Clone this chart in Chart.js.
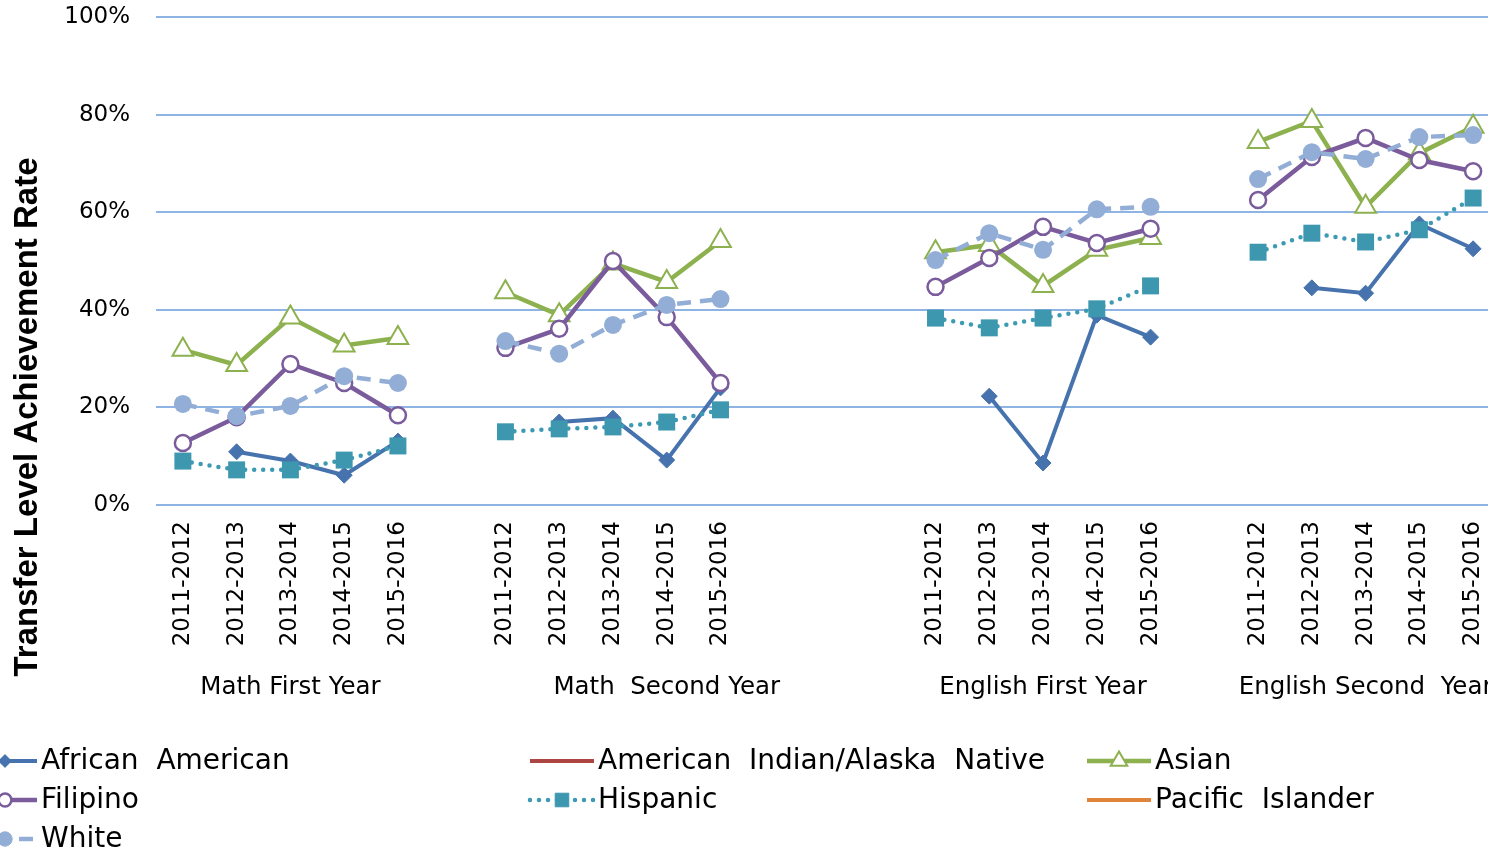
<!DOCTYPE html>
<html><head><meta charset="utf-8">
<script src="https://cdn.jsdelivr.net/npm/chart.js@4/dist/chart.umd.min.js"></script>
<style>html,body{margin:0;padding:0;overflow:hidden;background:#fff;width:1488px;height:854px}canvas{display:block}</style>
</head><body>
<canvas id="c" width="1514" height="854"></canvas>
<script>
// ---- data ----
const years = ['2011-2012', '2012-2013', '2013-2014', '2014-2015', '2015-2016'];
const groups = ['Math First Year', 'Math  Second Year', 'English First Year', 'English Second  Year'];
const blanksAfter = [1, 3, 1];
const yTicks = [0, 20, 40, 60, 80, 100];

const africanAmerican = [null, 10.9, 9.0, 6.1, 13.1,  null, 17.0, 17.8, 9.2, 24.0,  null, 22.3, 8.6, 38.9, 34.4,  null, 44.5, 43.4, 57.6, 52.5];
const americanIndian  = [null, null, null, null, null,  null, null, null, null, null,  null, null, null, null, null,  null, null, null, null, null];
const asian           = [31.8, 28.7, 38.4, 32.7, 34.2,  43.6, 38.9, 49.5, 45.7, 54.1,  51.8, 53.3, 44.9, 52.3, 54.7,  74.4, 78.7, 61.1, 72.1, 77.5];
const filipino        = [12.7, 18.0, 28.9, 25.0, 18.4,  32.2, 36.1, 50.0, 38.5, 25.0,  44.7, 50.6, 57.0, 53.7, 56.6,  62.5, 71.3, 75.2, 70.7, 68.4];
const hispanic        = [9.0, 7.2, 7.2, 9.2, 12.1,  15.0, 15.6, 16.0, 17.0, 19.5,  38.3, 36.3, 38.3, 40.2, 44.9,  51.8, 55.7, 53.9, 56.4, 62.9];
const pacificIslander = [null, null, null, null, null,  null, null, null, null, null,  null, null, null, null, null,  null, null, null, null, null];
const white           = [20.7, 18.2, 20.3, 26.4, 25.0,  33.6, 31.0, 36.9, 41.0, 42.2,  50.2, 55.7, 52.3, 60.6, 61.1,  66.8, 72.3, 70.9, 75.4, 75.8];

// ---- build category axis with blank slots between groups ----
const labels = [];
groups.forEach((g, gi) => {
  years.forEach(y => labels.push(y));
  if (gi < blanksAfter.length) for (let k = 0; k < blanksAfter[gi]; k++) labels.push('');
});
function expand(series) {
  const out = [];
  groups.forEach((g, gi) => {
    for (let k = 0; k < years.length; k++) out.push(series[gi * years.length + k]);
    if (gi < blanksAfter.length) for (let k = 0; k < blanksAfter[gi]; k++) out.push(null);
  });
  return out;
}
// category index at which each group caption is centred
const groupLabelIndex = [2, 9, 16, 22];

const FONT = '"DejaVu Sans", Verdana, sans-serif';

const datasets = [
  { label: 'African  American', data: expand(africanAmerican), borderColor: '#4673ad', backgroundColor: '#4673ad',
    pointStyle: 'rectRot', pointRadius: 8, pointBorderWidth: 1, borderWidth: 4, order: 6 },
  { label: 'American  Indian/Alaska  Native', data: expand(americanIndian), borderColor: '#ad4643', backgroundColor: '#ad4643',
    pointStyle: false, pointRadius: 0, borderWidth: 4, order: 5 },
  { label: 'Asian', data: expand(asian), borderColor: '#8cb14e', backgroundColor: '#8cb14e', pointBackgroundColor: '#ffffff',
    pointStyle: 'triangle', pointRadius: 12, pointBorderWidth: 2, borderWidth: 4.5, order: 4 },
  { label: 'Filipino', data: expand(filipino), borderColor: '#7a5b9b', backgroundColor: '#7a5b9b', pointBackgroundColor: '#ffffff',
    pointStyle: 'circle', pointRadius: 8, pointBorderWidth: 2.5, borderWidth: 4.5, order: 3 },
  { label: 'Hispanic', data: expand(hispanic), borderColor: '#3d9ab3', backgroundColor: '#3d97ae',
    borderDash: [0, 9], borderCapStyle: 'round', pointStyle: 'rect', pointRadius: 12, pointBorderWidth: 0, borderWidth: 4.5, order: 2 },
  { label: 'Pacific  Islander', data: expand(pacificIslander), borderColor: '#e0843a', backgroundColor: '#e0843a',
    pointStyle: false, pointRadius: 0, borderWidth: 4, order: 1 },
  { label: 'White', data: expand(white), borderColor: '#93aed6', backgroundColor: '#93aed6',
    borderDash: [14, 9], pointStyle: 'circle', pointRadius: 9, pointBorderWidth: 0, borderWidth: 4.5, order: 0 }
];

function marker(ctx, ds, x, y, scale) {
  const r = (ds.pointRadius || 0) * scale;
  if (!ds.pointStyle || !r) return;
  ctx.save();
  ctx.setLineDash([]);
  ctx.fillStyle = ds.pointBackgroundColor || ds.backgroundColor;
  ctx.strokeStyle = ds.borderColor;
  ctx.lineWidth = ds.pointBorderWidth || 0;
  ctx.beginPath();
  if (ds.pointStyle === 'circle') ctx.arc(x, y, r, 0, Math.PI * 2);
  else if (ds.pointStyle === 'rectRot') { ctx.moveTo(x - r, y); ctx.lineTo(x, y - r); ctx.lineTo(x + r, y); ctx.lineTo(x, y + r); ctx.closePath(); }
  else if (ds.pointStyle === 'rect') { const s = r * Math.SQRT1_2; ctx.rect(x - s, y - s, 2 * s, 2 * s); }
  else if (ds.pointStyle === 'triangle') {
    for (let k = 0; k < 3; k++) { const a = k * 2 * Math.PI / 3; const px = x + Math.sin(a) * r, py = y - Math.cos(a) * r; k ? ctx.lineTo(px, py) : ctx.moveTo(px, py); }
    ctx.closePath();
  }
  ctx.fill();
  if (ctx.lineWidth > 0) ctx.stroke();
  ctx.restore();
}

const extras = {
  id: 'extras',
  afterDraw(chart) {
    const ctx = chart.ctx;
    const xs = chart.scales.x;
    ctx.save();
    ctx.translate(28, 417);
    ctx.rotate(-Math.PI / 2);
    ctx.font = 'bold 33px "Liberation Sans", Arial, sans-serif';
    ctx.fillStyle = '#000';
    ctx.textAlign = 'center';
    ctx.textBaseline = 'middle';
    ctx.fillText('Transfer Level Achievement Rate', 0, 0);
    ctx.restore();

    ctx.save();
    ctx.font = '24.5px ' + FONT;
    ctx.fillStyle = '#000';
    ctx.textAlign = 'center';
    ctx.textBaseline = 'middle';
    groups.forEach((g, gi) => ctx.fillText(g, xs.getPixelForValue(groupLabelIndex[gi]), 688));
    ctx.restore();

    ctx.save();
    chart.data.datasets.forEach((ds, i) => {
      const col = i % 3, row = Math.floor(i / 3);
      const x0 = -27 + col * 557, y = 761 + row * 39;
      ctx.save();
      ctx.strokeStyle = ds.borderColor;
      ctx.lineWidth = ds.borderWidth;
      ctx.lineCap = ds.borderCapStyle || 'butt';
      ctx.setLineDash(ds.borderDash || []);
      ctx.beginPath(); ctx.moveTo(x0, y); ctx.lineTo(x0 + 64, y); ctx.stroke();
      ctx.restore();
      marker(ctx, ds, x0 + 32, y, 0.8);
      ctx.font = '28px ' + FONT;
      ctx.fillStyle = '#000';
      ctx.textBaseline = 'middle';
      ctx.textAlign = 'left';
      ctx.fillText(ds.label, x0 + 68, y + 1);
    });
    ctx.restore();
  }
};

new Chart(document.getElementById('c'), {
  type: 'line',
  data: { labels, datasets },
  plugins: [extras],
  options: {
    responsive: false,
    animation: false,
    devicePixelRatio: 1,
    layout: { padding: { left: 0, right: 0, top: 17, bottom: 0 } },
    elements: { line: { tension: 0 } },
    plugins: { legend: { display: false }, tooltip: { enabled: false } },
    scales: {
      x: {
        type: 'category',
        offset: true,
        grid: { display: false, drawTicks: false },
        border: { display: false },
        ticks: { autoSkip: false, maxRotation: 90, minRotation: 90, padding: 16, color: '#000', font: { family: FONT, size: 23 } },
        afterFit(s) { s.height = 349; s.paddingLeft = 0; s.paddingRight = 0; s.paddingTop = 0; s.paddingBottom = 0; }
      },
      y: {
        min: 0, max: 100,
        afterBuildTicks(s) { s.ticks = yTicks.map(v => ({ value: v })); },
        grid: { color: '#8eb4e3', lineWidth: 2, drawTicks: false },
        border: { display: false },
        ticks: { padding: 26, color: '#000', font: { family: FONT, size: 23 }, callback: v => v + '%' },
        afterFit(s) { s.width = 156; s.paddingTop = 0; s.paddingBottom = 0; s.paddingLeft = 0; s.paddingRight = 0; }
      }
    }
  }
});
</script>
</body></html>
